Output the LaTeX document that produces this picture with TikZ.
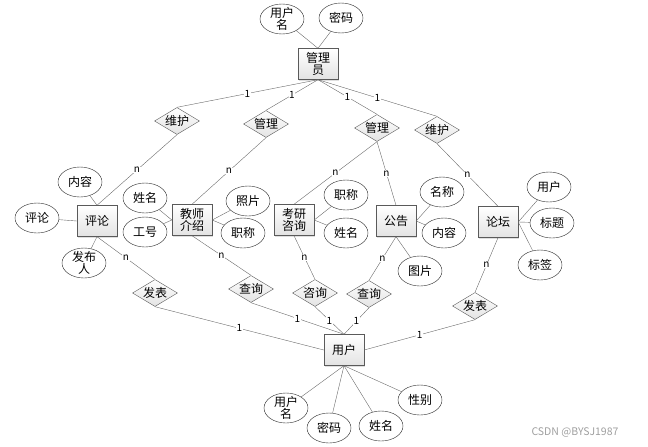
\documentclass[tikz,border=0pt]{standalone}
\usepackage{fontspec}
\setmainfont{Noto Sans CJK SC}
\usetikzlibrary{shapes.geometric,shadows}
\definecolor{linegray}{HTML}{6A6A6A}
\definecolor{boxgray}{HTML}{5A5A5A}

\begin{document}
\begin{tikzpicture}[x=1pt,y=-1pt,
	every node/.style={font=\fontsize{12}{12.5}\selectfont},
	entity/.style={draw=boxgray, top color=white, bottom color=gray!22, minimum width=40pt, minimum height=31pt, inner sep=1pt, align=center, drop shadow={opacity=0.25, shadow xshift=1pt, shadow yshift=-1pt}},
	relation/.style={diamond, aspect=1.7, draw=boxgray, top color=white, bottom color=gray!22, minimum width=45pt, minimum height=27pt, inner sep=-1.5pt},
	attr/.style={ellipse, draw=black!85, fill=white, minimum width=44pt, minimum height=30pt, inner sep=-3pt, align=center},
	link/.style={draw=linegray},
	card/.style={fill=white, inner sep=0.6pt, font=\fontsize{10}{11}\selectfont}]
	\useasboundingbox (0,0) rectangle (648,447);

	% entities
	\node[entity] (admin) at (318,64) {管理\\员};
	\node[entity] (comment) at (97,221) {评论};
	\node[entity] (teacher) at (192,220) {教师\\介绍};
	\node[entity] (consult) at (294,220) {考研\\咨询};
	\node[entity] (notice) at (396,221) {公告};
	\node[entity] (forum) at (498,222) {论坛};
	\node[entity] (user) at (344,350) {用户};

	% relations
	\node[relation] (keepL) at (177,121) {维护};
	\node[relation] (manL) at (266,124) {管理};
	\node[relation] (manR) at (377,128) {管理};
	\node[relation] (keepR) at (437,130) {维护};
	\node[relation] (postL) at (155,293) {发表};
	\node[relation] (queryL) at (251,289) {查询};
	\node[relation] (ask) at (315,293) {咨询};
	\node[relation] (queryR) at (369,294) {查询};
	\node[relation] (postR) at (475,306) {发表};

	% attributes
	\foreach \nm/\x/\y/\txt/\tgt in {adminName/282/19/{用户\\名}/admin.north, adminPwd/341/18/密码/admin.north,
		cmText/80/182/内容/comment.north, cmBody/37/218/评论/comment.west, cmAuthor/84/263/{发布\\人}/comment.south,
		tcName/145/198/姓名/teacher.west, tcNo/145/232/工号/teacher.west, tcPhoto/248/201/照片/teacher.east, tcTitle/243/233/职称/teacher.east,
		csTitle/346/195/职称/consult.east, csName/346/233/姓名/consult.east,
		ntName/442/192/名称/notice.east, ntText/444/233/内容/notice.east, ntPic/420/271/图片/notice.south,
		fmUser/549/187/用户/forum.east, fmHead/552/223/标题/forum.east, fmTag/540/265/标签/forum.east,
		usName/286/408/{用户\\名}/user.south, usPwd/329/428/密码/user.south, usReal/381/426/姓名/user.south, usSex/420/400/性别/user.south} {
		\node[attr] (\nm) at (\x,\y) {\txt};
		\draw[link] (\nm) -- (\tgt);
	}

	% admin side
	\draw[link] (admin.south) -- node[card] {1} (keepL.north);
	\draw[link] (admin.south) -- node[card] {1} (manL.north);
	\draw[link] (admin.south) -- node[card] {1} (manR.north);
	\draw[link] (admin.south) -- node[card] {1} (keepR.north);
	\draw[link] (keepL.south) -- node[card] {n} (comment.north);
	\draw[link] (manL.south) -- node[card] {n} (teacher.north);
	\draw[link] (manR.south) -- node[card] {n} (consult.north);
	\draw[link] (manR.south) -- node[card] {n} (notice.north);
	\draw[link] (keepR.south) -- node[card] {n} (forum.north);

	% user side
	\draw[link] (comment.south) -- node[card] {n} (postL.north);
	\draw[link] (teacher.south) -- node[card] {n} (queryL.north);
	\draw[link] (consult.south) -- node[card] {n} (ask.north);
	\draw[link] (notice.south) -- node[card] {n} (queryR.north);
	\draw[link] (forum.south) -- node[card] {n} (postR.north);
	\draw[link] (postL.south) -- node[card] {1} (user.west);
	\draw[link] (queryL.south) -- node[card] {1} (user.north);
	\draw[link] (ask.south) -- node[card] {1} (user.north);
	\draw[link] (queryR.south) -- node[card] {1} (user.north);
	\draw[link] (postR.south) -- node[card] {1} (user.east);

	\node[text=gray!75, font=\fontsize{10.5}{12}\selectfont] (mark) at (575,432) {CSDN @BYSJ1987};
\end{tikzpicture}
\end{document}
